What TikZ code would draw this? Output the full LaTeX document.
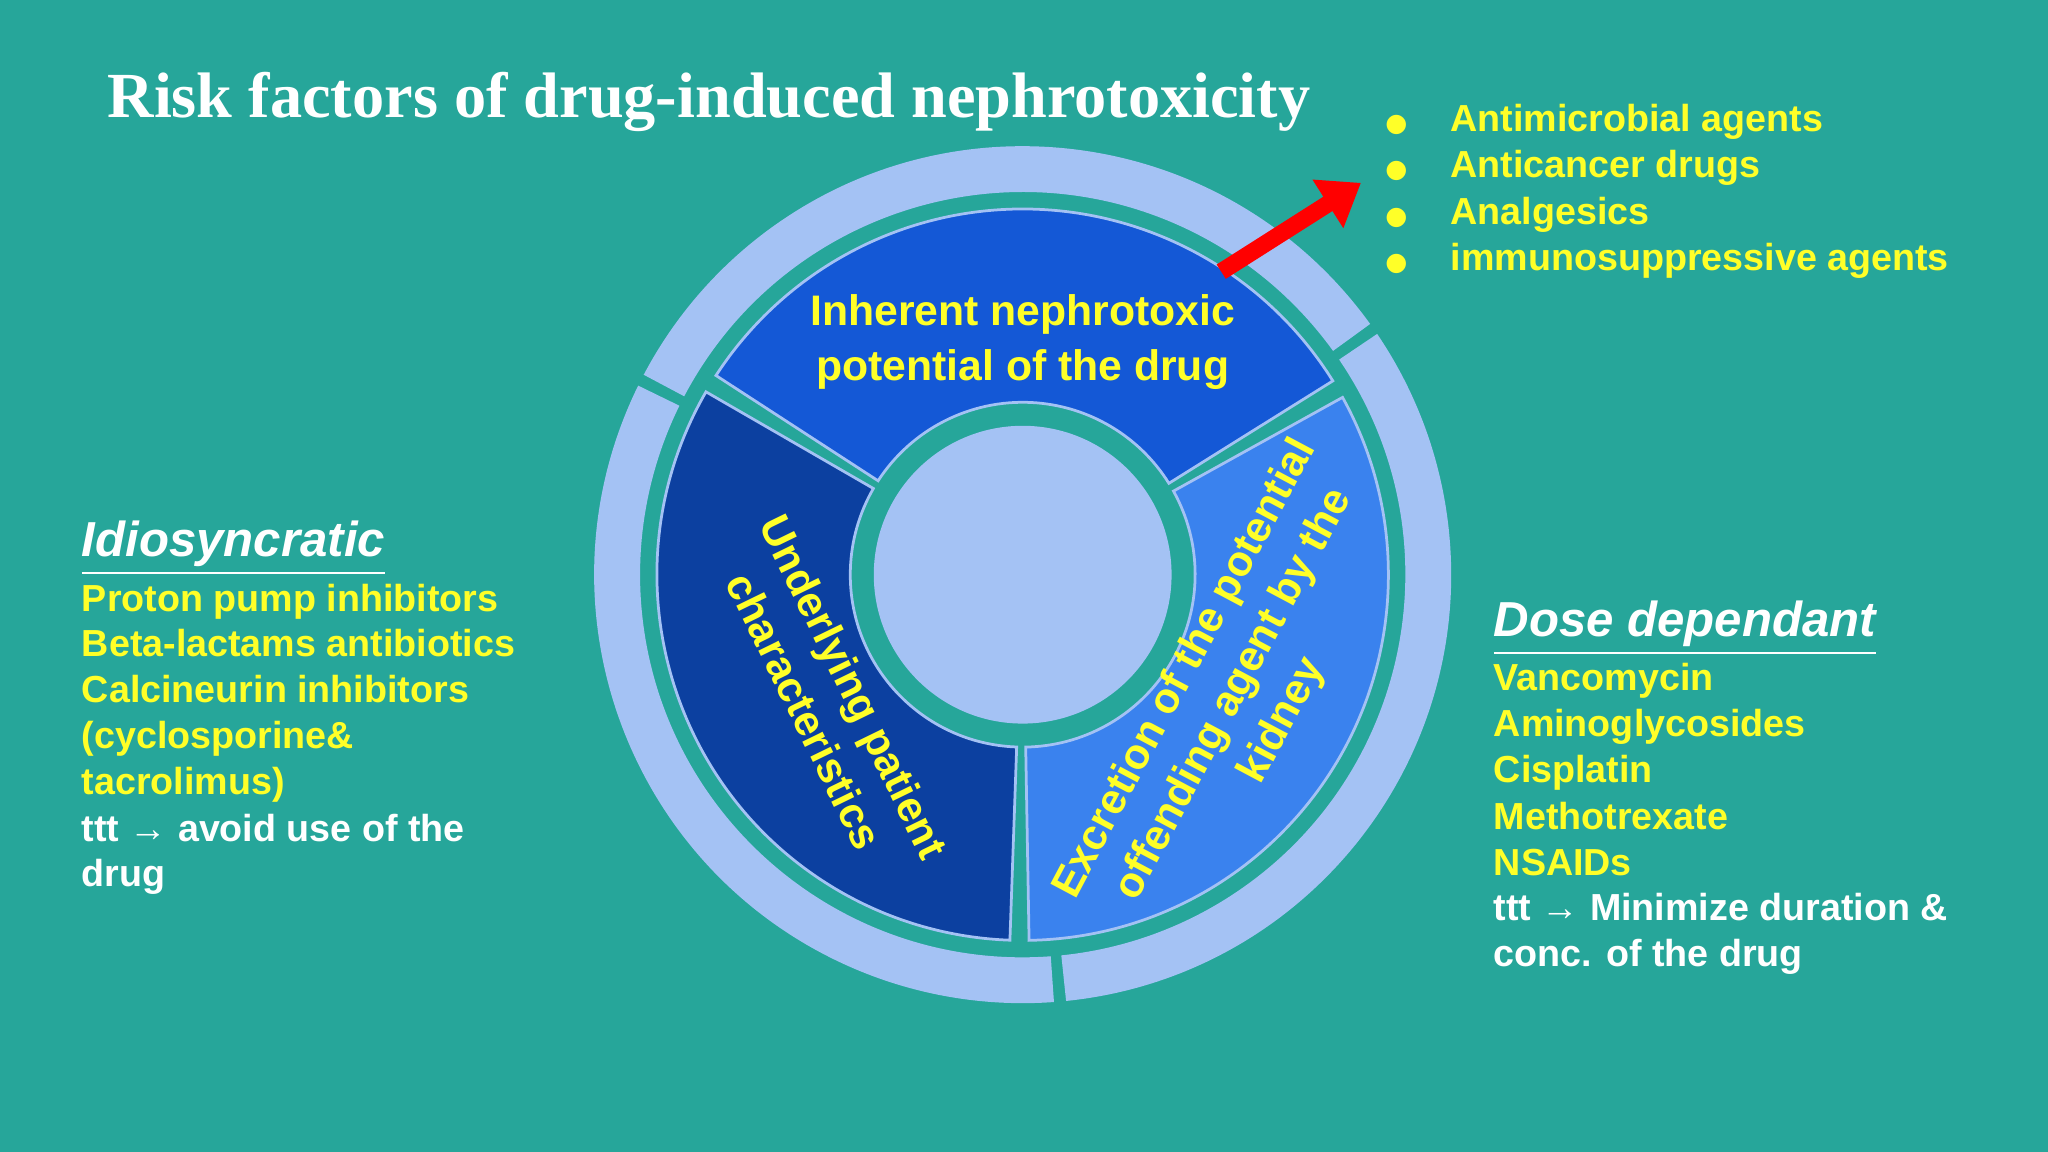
\documentclass[tikz,border=0pt]{standalone}
\usepackage{fontspec}
\setmainfont{Liberation Sans}
\newfontfamily\titlefont{Liberation Serif}
\newfontfamily\symfont{DejaVu Sans}
\usetikzlibrary{arrows.meta, positioning}
\definecolor{bgteal}{RGB}{38,166,154}
\definecolor{ringblue}{RGB}{164,194,244}
\definecolor{topblue}{RGB}{20,88,214}
\definecolor{leftblue}{RGB}{12,64,160}
\definecolor{rightblue}{RGB}{58,130,238}
\definecolor{txtyellow}{RGB}{255,255,40}
\tikzset{
  segtext/.style={text=txtyellow, font=\bfseries\fontsize{9.3pt}{12pt}\selectfont, align=center},
  itemtext/.style={text=txtyellow, font=\bfseries\fontsize{8.2pt}{10pt}\selectfont, anchor=west, inner sep=0pt, text height=0.21cm, text depth=0.05cm},
  whitetext/.style={itemtext, text=white},
  headtext/.style={text=white, font=\bfseries\itshape\fontsize{10.7pt}{12pt}\selectfont, anchor=west, inner sep=0pt}
}
\newcommand{\sector}[5]{% fill, a1, a2, r1, r2
  \filldraw[fill=#1, draw=ringblue, line width=0.6pt] (#2:#5) arc (#2:#3:#5) -- (#3:#4) arc (#3:#2:#4) -- cycle;}
\begin{document}
\begin{tikzpicture}[x=0.01cm, y=-0.01cm]
\fill[bgteal] (0,0) rectangle (1568,882);
\useasboundingbox (0,0) rectangle (1568,882);

% Title
\node[anchor=west, text=white, font=\titlefont\bfseries\fontsize{14pt}{16pt}\selectfont] (title) at (70,78) {Risk factors of drug-induced nephrotoxicity};

% Wheel
\begin{scope}[x=0.01cm, y=0.01cm, shift={(783,-440)}]
  % outer ring
  \sector{ringblue}{36}{152}{294}{327}
  \sector{ringblue}{154}{274}{294}{327}
  \sector{ringblue}{276}{394}{294}{327}
  % middle segments
  \sector{topblue}{32}{147}{132}{280}
  \sector{leftblue}{150}{268}{132}{280}
  \sector{rightblue}{271}{389}{132}{280}
  % centre
  \fill[ringblue] (0,0) circle (114);
  \node[segtext] (inherent) at (0,178) {Inherent nephrotoxic\\potential of the drug};
  \node[segtext, rotate=-64] (patient) at (-148,-95) {Underlying patient\\characteristics};
  \node[segtext, rotate=62] (excretion) at (162,-92) {Excretion of the potential\\offending agent by the\\kidney};
\end{scope}

% Arrow
\coordinate (arrS) at (935,208);
\coordinate (arrE) at (1042,140);
\draw[red, line width=0.13cm, -{Triangle[length=0.3cm, width=0.42cm]}] (arrS) -- (arrE);

% Drug classes
\foreach \y/\txt in {93/Antimicrobial agents, 128/Anticancer drugs, 164/Analgesics, 199/immunosuppressive agents} {
  \node[itemtext, font=\symfont\fontsize{5.5pt}{9pt}\selectfont] at (1060,\y) {●};
  \node[itemtext] at (1110,\y) {\txt};
}

% Idiosyncratic
\node[headtext] (idio) at (62,420) {\underline{Idiosyncratic}};
\foreach \y/\txt in {460/Proton pump inhibitors, 495/Beta-lactams antibiotics, 530/Calcineurin inhibitors, 565/(cyclosporine\&, 600/tacrolimus)} {
  \node[itemtext] at (62,\y) {\txt};
}
\node[whitetext] at (62,636) {ttt → avoid use of the};
\node[whitetext] at (62,671) {drug};

% Dose dependant
\node[headtext] (dose) at (1143,481) {\underline{Dose dependant}};
\foreach \y/\txt in {521/Vancomycin, 556/Aminoglycosides, 591/Cisplatin, 627/Methotrexate, 662/NSAIDs} {
  \node[itemtext] at (1143,\y) {\txt};
}
\node[whitetext] at (1143,697) {ttt → Minimize duration \&};
\node[whitetext] at (1143,732) {conc. of the drug};
\end{tikzpicture}
\end{document}
